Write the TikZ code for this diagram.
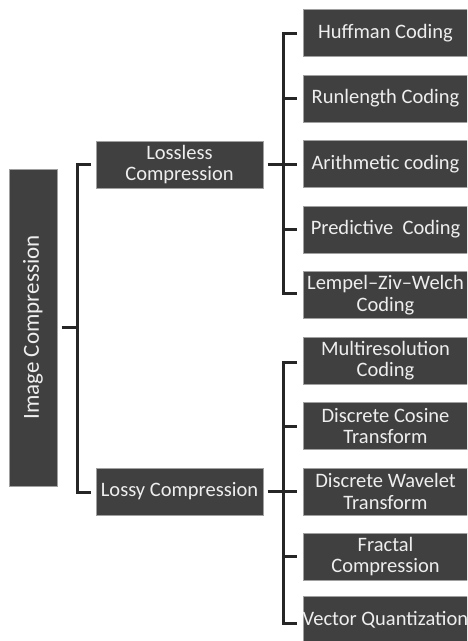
\documentclass[tikz,border=0pt]{standalone}
\usepackage{fontspec}
\setmainfont{Carlito}
\begin{document}
\begin{tikzpicture}[x=1pt,y=-1pt,
  box/.style={fill=boxgray,draw=edgegray,line width=1pt,text=textgray,
    inner sep=0pt,align=center,font=\fontsize{20.5}{21.5}\selectfont},
  leaf/.style={box,minimum width=165pt,minimum height=47pt},
  mid/.style={box,minimum width=167pt,minimum height=47pt},
  wire/.style={draw=wiregray,line width=3pt}]
\definecolor{boxgray}{HTML}{404040}
\definecolor{edgegray}{HTML}{A0A0A0}
\definecolor{textgray}{HTML}{EEEEEE}
\definecolor{wiregray}{HTML}{262626}
\useasboundingbox (0,0) rectangle (467,641);
\begin{scope}
\clip (0,0) rectangle (467,641);
% root
\node[box,minimum width=48pt,minimum height=317pt] (root) at (33,327.5) {};
\node[rotate=90,text=textgray,font=\fontsize{23}{24}\selectfont] (roottext) at (root.center) {Image Compression};
% second level
\node[mid] (lossless) at (179.5,164.5) {Lossless\\Compression};
\node[mid] (lossy) at (179.5,491.5) {Lossy Compression};
% leaves
\node[leaf] (huff) at (385.5,33) {Huffman Coding};
\node[leaf] (run) at (385.5,98.5) {Runlength Coding};
\node[leaf] (arith) at (385.5,164) {Arithmetic coding};
\node[leaf] (pred) at (385.5,229.5) {Predictive\ \ Coding};
\node[leaf] (lzw) at (385.5,295) {Lempel--Ziv--Welch\\Coding};
\node[leaf] (multi) at (385.5,360.5) {Multiresolution\\Coding};
\node[leaf] (dct) at (385.5,426) {Discrete Cosine\\Transform};
\node[leaf] (dwt) at (385.5,491.5) {Discrete Wavelet\\Transform};
\node[leaf] (frac) at (385.5,556.5) {Fractal\\Compression};
\node[leaf] (vq) at (385.5,620) {};
\node[text=textgray,font=\fontsize{20.5}{21.5}\selectfont,anchor=west,inner sep=0pt] (vqtext) at ([xshift=0pt]vq.west) {Vector Quantization};
\end{scope}
% root bracket
\coordinate (rj) at (77,327.5);
\draw[wire] ([xshift=4pt]root.east |- rj) -- (rj);
\draw[wire] (91,164) -| (77,492) -- (91,492);
% lossless bracket
\draw[wire] ([xshift=4pt]lossless.east) -- (283,164.5);
\draw[wire] (297,33) -| (283,293) -- (297,293);
\foreach \n in {run,arith,pred}
  \draw[wire] (283,0 |- \n.west) -- ([xshift=-6pt]\n.west);
% lossy bracket
\draw[wire] ([xshift=4pt]lossy.east) -- (283,491.5);
\draw[wire] (297,362) -| (283,623) -- (297,623);
\foreach \n in {dct,dwt,frac}
  \draw[wire] (283,0 |- \n.west) -- ([xshift=-6pt]\n.west);
\end{tikzpicture}
\end{document}
